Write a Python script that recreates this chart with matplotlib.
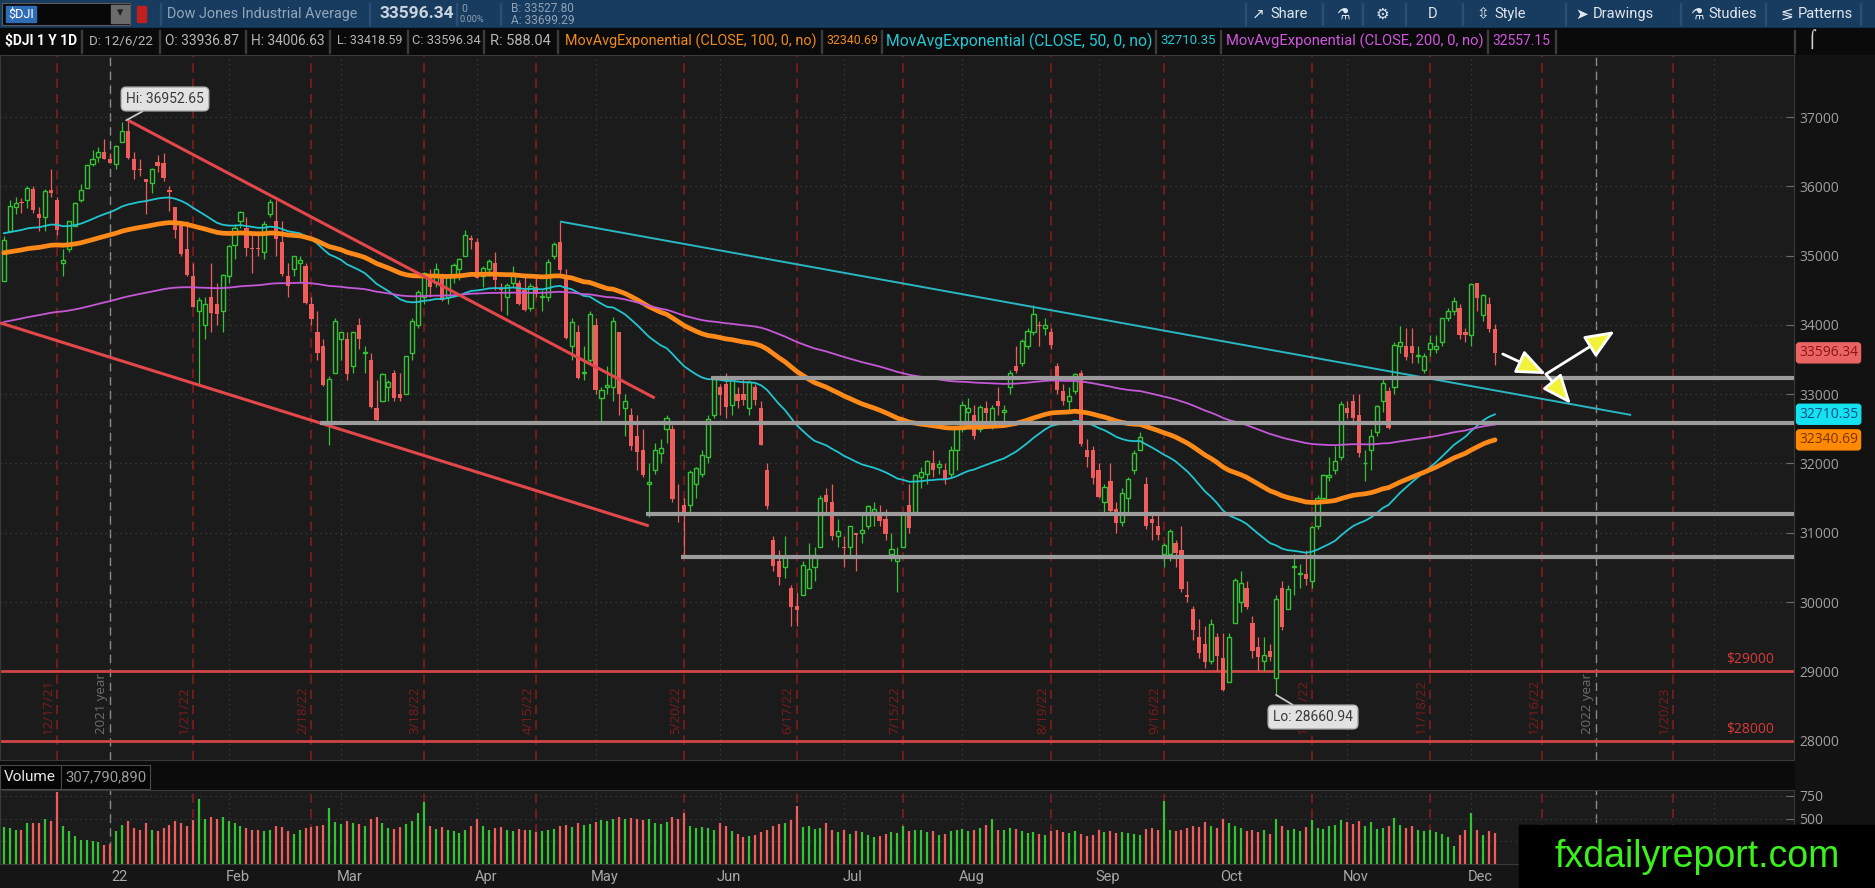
import numpy as np
import pandas as pd
import matplotlib
matplotlib.use('Agg')
import matplotlib.pyplot as plt
import matplotlib.transforms as mtrans
from matplotlib.patches import Rectangle

W, H = 1875, 888

# NYSE holidays inside the visible range (plus a few future ones)
holidays = ['2021-12-24', '2022-01-17', '2022-02-21', '2022-04-15', '2022-05-30',
            '2022-06-20', '2022-07-04', '2022-09-05', '2022-11-24', '2022-12-26',
            '2023-01-02', '2023-01-16', '2023-02-20']

# daily OHLC, 2021-12-06 .. 2022-12-06
opens = [34640, 35350, 35700, 35760, 35800, 35960, 35600, 35550, 35950, 35800, 34900, 35100, 35430, 35800, 35970, 36320, 36420, 36500, 36400,
         36320, 36640, 36800, 36400, 36250, 36100, 36050, 36350, 36330, 35950, 35700, 35450, 35100, 34700, 34200, 34000, 34400, 34300, 34200, 34700,
         35150, 35500, 35400, 35100, 35100, 35050, 35600, 35500, 35200, 34700, 34800, 34900, 34850, 34300, 33900, 33700, 32600, 33300, 33800,
         33800, 33400, 34000, 33600, 33500, 32800, 32900, 33100, 33300, 33000, 33000, 33600, 34000, 34400, 34700, 34600, 34700, 34400, 34700, 34800, 35000, 35250, 35200,
         34700, 34800, 34900, 34500, 34400, 34600, 34600, 34500, 34250, 34550, 34400, 34400, 35000, 35200, 34700, 33700, 33900, 33300, 33500, 34000,
         32950, 33100, 33100, 33900, 32800, 32700, 32400, 32200, 31700, 31900, 32150, 32500, 32500, 31300, 31400, 31400, 31700, 31850, 32100, 32700, 33100,
         33150, 32850, 33000, 33000, 32800, 33100, 32800, 31900, 30900, 30600, 30500, 30200, 29950, 30100, 30200, 30500, 30800, 31550, 31450, 30950, 30800,
         30800, 31000, 31000, 31100, 31300, 31250, 31200, 30700, 30600, 30800, 31400, 31300, 31800, 31850, 32000, 31950, 31900, 31850, 32200, 32500,
         32750, 32700, 32500, 32800, 32600, 32900, 32750, 33100, 33400, 33450, 33700, 33900, 34000, 33950, 33900, 33400, 33050, 32900, 33050, 33300, 32200, 32200, 31900,
         31450, 31750, 31350, 31150, 31500, 31900, 32200, 31700, 31200, 31100, 30700, 30700, 30850, 30750, 30100, 29900, 29500, 29400, 29150, 29500, 29200,
         28850, 29700, 30000, 30200, 29700, 29350, 29150, 29300, 28900, 30200, 29900, 30500, 30400, 30400, 30300, 31100, 31500, 31800, 31900, 32100, 32800,
         32900, 32700, 32000, 32200, 32450, 32900, 33050, 33100, 33700, 33700, 33700, 33550, 33350, 33650, 33650, 33750, 34100, 34200, 34250, 33900, 33850,
         34600, 34150, 34300, 33936.87]
highs = [35290, 35800, 35850, 35830, 36000, 36000, 35700, 35960, 36250, 35850, 35100, 35500, 35770, 36030, 36310, 36530, 36570, 36680, 36480,
         36600, 36935, 36952.65, 36500, 36400, 36110, 36260, 36450, 36480, 36000, 35700, 35500, 35500, 34900, 34400, 34400, 34900, 34600, 34730, 35160,
         35450, 35650, 35550, 35300, 35350, 35500, 35820, 35800, 35500, 34900, 35000, 34990, 34900, 34400, 34200, 33800, 33260, 34100, 33900,
         33900, 33900, 34100, 33700, 33600, 33200, 33300, 33200, 33350, 33300, 33550, 34100, 34500, 34760, 34800, 34900, 34750, 34710, 34900, 34960, 35370, 35300, 35250,
         34850, 34950, 35050, 34600, 34600, 34850, 34650, 34700, 34600, 34700, 34500, 34950, 35200, 35492, 34800, 34100, 34000, 33700, 34200, 34100,
         33100, 33400, 34110, 33900, 33000, 32800, 32700, 32500, 32000, 32300, 32350, 32700, 32550, 31700, 31500, 31900, 31950, 32200, 32700, 33220, 33150,
         33300, 33250, 33100, 33250, 33200, 33150, 32900, 32000, 30950, 30750, 30950, 30250, 30150, 30600, 30850, 30800, 31550, 31650, 31700, 31200, 30950,
         31100, 31000, 31250, 31400, 31450, 31400, 31350, 31000, 30800, 31300, 31700, 31850, 31950, 32050, 32200, 32050, 32000, 32250, 32550, 32900,
         32950, 32850, 32850, 32900, 32850, 33100, 32850, 33350, 33700, 33800, 33950, 34281, 34050, 34100, 33950, 33450, 33150, 33100, 33300, 33350, 32350, 32250, 32000,
         31700, 32000, 31450, 31650, 31800, 32200, 32450, 31800, 31300, 31300, 30850, 31050, 30900, 31100, 30300, 29950, 29750, 29650, 29750, 29550, 29550,
         29550, 30350, 30450, 30300, 29800, 29500, 29500, 29400, 30100, 30300, 30250, 30700, 30550, 30750, 31100, 31550, 31850, 32100, 32250, 32900, 32900,
         33000, 33000, 32200, 32500, 32850, 33250, 33100, 33750, 33990, 33950, 33950, 33700, 33600, 33850, 33850, 34100, 34250, 34400, 34300, 33950, 34600,
         34600, 34450, 34400, 34006.63]
lows = [34640, 35350, 35600, 35620, 35680, 35620, 35350, 35350, 35840, 35300, 34710, 35050, 35430, 35770, 35970, 36300, 36350, 36390, 36330,
        36250, 36640, 36400, 36100, 36150, 35600, 35900, 36200, 36080, 35650, 35250, 35000, 34700, 34260, 33150, 33800, 33900, 34000, 33900, 34600,
        34950, 35400, 35000, 34750, 35000, 34950, 35550, 35000, 34700, 34400, 34700, 34600, 34300, 34000, 33500, 33120, 32272, 33300, 33500,
        33200, 33300, 33650, 33300, 32800, 32600, 32900, 32900, 32900, 32900, 33000, 33500, 33950, 34300, 34400, 34550, 34350, 34300, 34600, 34650, 35000, 35100, 34670,
        34550, 34700, 34500, 34200, 34150, 34550, 34280, 34200, 34200, 34400, 34200, 34350, 34950, 34750, 33800, 33500, 33220, 33200, 33450, 33000,
        32600, 33000, 32900, 32700, 32400, 32200, 31900, 31800, 31230, 31850, 32000, 32300, 31450, 31150, 30640, 31300, 31500, 31800, 32000, 32650, 32700,
        32650, 32700, 32800, 32850, 32700, 32850, 32270, 31350, 30450, 30250, 30350, 29650, 29650, 30100, 30200, 30300, 30800, 31300, 30900, 30800, 30500,
        30650, 30450, 30850, 31050, 31100, 31100, 30900, 30600, 30140, 30800, 31000, 31300, 31650, 31700, 31800, 31850, 31700, 31800, 31900, 32450,
        32600, 32350, 32450, 32600, 32500, 32700, 32600, 33000, 33300, 33400, 33650, 33850, 33700, 33850, 33650, 33000, 32850, 32750, 33000, 32250, 31950, 31700, 31500,
        31250, 31250, 31000, 31100, 31300, 31850, 32200, 31050, 30900, 30900, 30500, 30600, 30500, 30150, 30000, 29450, 29200, 29050, 29100, 29000, 28720,
        28850, 29700, 29850, 29900, 29200, 29000, 29000, 29150, 28660.94, 29600, 29900, 30100, 30200, 30250, 30200, 31050, 31450, 31750, 31850, 32050, 32650,
        32550, 32100, 31750, 31900, 32400, 32750, 32500, 33000, 33600, 33500, 33450, 33450, 33300, 33550, 33600, 33700, 34050, 34150, 33800, 33750, 33700,
        34200, 34050, 33900, 33418.59]
closes = [35227, 35719, 35754, 35755, 35971, 35651, 35545, 35928, 35898, 35365, 34932, 35493, 35754, 35950, 36302, 36398, 36488, 36398, 36338,
          36585, 36800, 36407, 36236, 36231, 36068, 36252, 36290, 36113, 35912, 35368, 35029, 34715, 34265, 34365, 34297, 34168, 34160, 34725, 35132,
          35405, 35629, 35111, 35089, 35091, 35463, 35768, 35241, 34738, 34566, 34989, 34934, 34312, 34079, 33597, 33131, 33224, 34059, 33893,
          33294, 33891, 33795, 33615, 32818, 32633, 33286, 33174, 32944, 32945, 33544, 34063, 34481, 34754, 34553, 34808, 34359, 34708, 34862, 34955, 35294, 35229, 34678,
          34818, 34922, 34641, 34497, 34583, 34721, 34308, 34221, 34565, 34451, 34412, 34911, 35161, 34793, 33811, 34049, 33240, 33302, 34160, 33061,
          33062, 33129, 34061, 32998, 32900, 32246, 32161, 31834, 31730, 32197, 32223, 32655, 31490, 31254, 31262, 31880, 31929, 32120, 32637, 33213, 32990,
          32813, 33248, 32900, 32916, 33180, 32910, 32272, 31393, 30517, 30365, 30668, 29927, 29889, 30530, 30483, 30677, 31500, 31439, 30947, 31029, 30775,
          31097, 30968, 31037, 31385, 31338, 31174, 30981, 30773, 30630, 31288, 31072, 31827, 31874, 32036, 31899, 31990, 31761, 32197, 32530, 32845,
          32798, 32396, 32813, 32727, 32803, 32832, 32774, 33309, 33336, 33761, 33913, 34152, 33980, 33999, 33706, 33063, 32909, 32970, 33291, 32283, 32098, 31790, 31510,
          31656, 31318, 31145, 31581, 31774, 32151, 32381, 31104, 31135, 30961, 30822, 31019, 30706, 30184, 30076, 29590, 29260, 29135, 29684, 29226, 28726,
          29491, 30317, 30274, 29927, 29297, 29203, 29239, 29211, 30039, 29635, 30186, 30524, 30424, 30334, 31083, 31500, 31837, 31839, 32034, 32862, 32733,
          32653, 32148, 32001, 32403, 32827, 33161, 32514, 33716, 33748, 33537, 33593, 33554, 33546, 33746, 33700, 34098, 34195, 34347, 33850, 33853, 34590,
          34395, 34430, 33948, 33596.34]
# volume, millions
volumes = [410, 395, 380, 380, 450, 450, 455, 500, 470, 790, 420, 360, 310, 260, 260, 250, 240, 210, 220,
           360, 430, 470, 400, 380, 450, 380, 360, 400, 430, 470, 450, 420, 490, 720, 500, 520, 500, 520, 470,
           450, 420, 400, 380, 370, 360, 370, 420, 410, 360, 330, 380, 400, 410, 420, 430, 620, 460, 440,
           470, 450, 440, 420, 500, 520, 450, 400, 390, 410, 440, 470, 560, 680, 420, 390, 410, 380, 360, 340, 380, 420, 500,
           420, 380, 400, 410, 380, 360, 390, 370, 380, 350, 360, 380, 390, 420, 430, 410, 450, 430, 440, 460,
           480, 470, 500, 520, 500, 510, 500, 480, 500, 450, 440, 460, 520, 500, 560, 420, 400, 410, 400, 380, 450,
           420, 360, 330, 300, 310, 320, 350, 380, 420, 440, 450, 480, 640, 410, 420, 390, 400, 450, 370, 350, 380,
           330, 360, 350, 320, 300, 310, 330, 350, 340, 420, 360, 380, 370, 350, 360, 320, 330, 360, 380, 390,
           360, 380, 400, 430, 500, 380, 370, 400, 390, 360, 340, 350, 330, 320, 360, 380, 350, 340, 360, 330, 310, 320, 370,
           350, 360, 340, 350, 340, 330, 320, 390, 400, 370, 700, 380, 360, 370, 400, 420, 410, 460, 420, 400, 500,
           450, 420, 400, 360, 380, 350, 370, 330, 500, 420, 380, 390, 360, 410, 480, 400, 390, 420, 430, 490, 460,
           440, 470, 420, 460, 390, 400, 420, 510, 430, 400, 420, 380, 360, 370, 350, 330, 300, 200, 320, 380, 560,
           380, 320, 360, 340]

# EMA starting levels read at the left edge, and the study readouts
ema_seeds = {50: 35326, 100: 35037, 200: 34030}
readout = {'close': 33596.34, 50: 32710.35, 100: 32340.69, 200: 32557.15}

expiries = ['2021-12-17', '2022-01-21', '2022-02-18', '2022-03-18', '2022-04-15', '2022-05-20',
            '2022-06-17', '2022-07-15', '2022-08-19', '2022-09-16', '2022-10-21', '2022-11-18',
            '2022-12-16', '2023-01-20']
month_starts = pd.date_range('2022-01-01', '2023-02-01', freq='MS')
# labels past Dec sit under the watermark, so only gridlines are drawn there
month_names = ['22', 'Feb', 'Mar', 'Apr', 'May', 'Jun', 'Jul', 'Aug', 'Sep', 'Oct', 'Nov', 'Dec']

# drawn studies: (date, price) pairs
red_upper = [('2022-01-05', 36952.65), ('2022-05-13', 32945)]
red_lower = [('2021-12-03', 34030), ('2022-05-12', 31100)]
cyan_trend = [('2022-04-21', 35492), ('2023-01-10', 32700)]
gray_levels = [('2022-05-27', 33240), ('2022-02-23', 32590), ('2022-05-12', 31275), ('2022-05-20', 30655)]
red_levels = [29000, 28000]
# arrows as (bar index, price)
arrows = [((253.3, 33580), (260.6, 33290)),
          ((260.6, 33290), (272.2, 33910)),
          ((260.6, 33290), (264.8, 32860))]

GREEN = '#35c235'
RED = '#f05c5c'
BG = '#1b1b1b'
UI = ['Roboto', 'DejaVu Sans']
plt.rcParams['font.family'] = ['Open Sans', 'DejaVu Sans']

days = pd.bdate_range('2021-12-06', '2023-03-31')
days = days[~days.isin(pd.to_datetime(holidays))]


def day_idx(d):
    return days.searchsorted(pd.Timestamp(d), side='right') - 1


def first_idx(d):
    return days.searchsorted(pd.Timestamp(d), side='left')


def ema(vals, span, seed):
    s = pd.Series([seed] + list(vals), dtype=float)
    return s.ewm(span=span, adjust=False).mean().to_numpy()[1:]


o = np.array(opens, float)
h = np.array(highs, float)
l = np.array(lows, float)
c = np.array(closes, float)
v = np.array(volumes, float)
x = np.arange(len(c))

fig = plt.figure(figsize=(W / 100, H / 100), dpi=100, facecolor='#0e0e0e')
renderer = fig.canvas.get_renderer()


def fx(px):
    return px / W


def fy(py):
    return 1 - py / H


def ftext(px, py, s, x1=None, **kw):
    kw.setdefault('va', 'center')
    t = fig.text(fx(px), fy(py), s, **kw)
    if x1 is not None:
        w = t.get_window_extent(renderer).width
        t.set_fontsize(t.get_fontsize() * (x1 - px) / w)
    return t


def frect(x0, y0, x1, y1, **kw):
    fig.patches.append(Rectangle((fx(x0), fy(y1)), (x1 - x0) / W, (y1 - y0) / H,
                                 transform=fig.transFigure, **kw))


# background bands (behind the axes)
frect(0, 0, W, 28, color='#183c60', zorder=-2)
frect(0, 28, W, 55, color='#0a0a0a', zorder=-2)
frect(1794, 55, W, H, color='#121212', zorder=-2)
frect(0, 760, 1794, 790, color='#0b0b0b', zorder=-2)
frect(0, 864, 1794, H, color='#151515', zorder=-2)

# x mapping: 12/17/21 bar at px 57, 5.918 px per bar
i17 = day_idx('2021-12-17')
PXB = 5.918
xlim = (i17 - 57 / PXB, i17 + (1794 - 57) / PXB)

ax = fig.add_axes([0, fy(760), fx(1794), (760 - 55) / H])
ax.set_facecolor(BG)
ax.set_xlim(*xlim)
ax.set_ylim(27721, 37895)
axv = fig.add_axes([0, fy(864), fx(1794), (864 - 790) / H])
axv.set_facecolor(BG)
axv.set_xlim(*xlim)
axv.set_ylim(0, 816)

for a in (ax, axv):
    for s in a.spines.values():
        s.set_color('#3a3a3a')
    a.set_xticks([])
    a.yaxis.tick_right()
    a.tick_params(axis='y', direction='in', length=6, color='#6a6a6a', pad=4,
                  labelcolor='#a0a0a0', labelsize=10)

ax.set_yticks(range(28000, 38000, 1000))
ax.grid(axis='y', color='#3d3d3d', linestyle=(0, (1, 3)), lw=0.9)
axv.set_yticks([500, 750])
axv.set_yticks([250, 500], minor=True)
axv.tick_params(axis='y', which='minor', length=0)
axv.grid(axis='y', which='both', color='#3d3d3d', linestyle=(0, (1, 3)), lw=0.9)

# month gridlines (last bar of previous month) and labels
lab_tr = mtrans.blended_transform_factory(ax.transData, fig.transFigure)
for j, ms in enumerate(month_starts):
    k = first_idx(ms)
    for a in (ax, axv):
        a.axvline(k - 1, color='#3d3d3d', linestyle=(0, (1, 3)), lw=0.9, zorder=0)
    if j < len(month_names):
        ax.text(k + 0.5, fy(877), month_names[j], transform=lab_tr, ha='center', va='center',
                color='#a8a8a8', fontsize=10.5, family=UI, clip_on=False)

# expiration lines
for d in expiries:
    k = day_idx(d)
    ts = pd.Timestamp(d)
    ax.axvline(k, color='#8c1d1d', lw=1.1, linestyle=(0, (6, 4)), zorder=1)
    axv.axvline(k, color='#8c1d1d', lw=1.1, linestyle=(0, (6, 4)), zorder=0)
    ax.text(k - 0.35, 28090, f'{ts.month}/{ts.day}/{ts:%y}', rotation=90, ha='right', va='bottom',
            color='#7d1c1c', fontsize=9.5, zorder=1)

# year lines
for yr in ['2022-01-01', '2023-01-01']:
    k = first_idx(yr) - 1
    for a in (ax, axv):
        a.axvline(k, color='#8a8a8a', lw=1.0, linestyle=(0, (6, 4)), zorder=1)
    ax.text(k - 0.35, 28090, f'{pd.Timestamp(yr).year - 1} year', rotation=90, ha='right',
            va='bottom', color='#6e6e6e', fontsize=9.5, zorder=1)

# horizontal price alerts
for lvl in red_levels:
    ax.axhline(lvl, color='#d04545', lw=2.0, zorder=2)
    ax.text(1774 / 1794, lvl + 60, f'${lvl}', transform=ax.get_yaxis_transform(), ha='right',
            va='bottom', color='#d83a3a', fontsize=10)

# candles
up = c >= o
col = np.where(up, GREEN, RED)
ax.vlines(x, l, h, colors=col, lw=0.9, zorder=3)
body = np.maximum(np.abs(c - o), 14)
bottom = np.minimum(o, c)
ax.bar(x[up], body[up], bottom=bottom[up], width=0.7, facecolor=BG, edgecolor=GREEN,
       lw=1.0, zorder=4)
ax.bar(x[~up], body[~up], bottom=bottom[~up], width=0.72, color=RED, lw=0, zorder=4)

# moving averages
ema_style = {50: ('#22c4cf', 1.3), 100: ('#ff8a1a', 3.4), 200: ('#c458d6', 1.3)}
for span, (color, lw) in ema_style.items():
    ax.plot(x, ema(c, span, ema_seeds[span]), color=color, lw=lw, zorder=5,
            solid_capstyle='round')

# trendlines
for pts, color, lw in [(red_upper, '#e2474b', 2.2), (red_lower, '#e2474b', 2.2),
                       (cyan_trend, '#2ab6c2', 1.4)]:
    xs = [day_idx(d) for d, _ in pts]
    if pts is red_lower:
        xs[0] = xlim[0]
    ax.plot(xs, [p for _, p in pts], color=color, lw=lw, zorder=6, solid_capstyle='butt')

for d, lvl in gray_levels:
    ax.plot([day_idx(d) - 0.5, xlim[1]], [lvl, lvl], color='#9c9c9c', lw=3.0, zorder=6,
            solid_capstyle='butt')

for (x0, y0), (x1, y1) in arrows:
    ax.annotate('', xy=(x1, y1), xytext=(x0, y0),
                arrowprops=dict(arrowstyle='-|>,head_length=1.2,head_width=0.5', fc='#f2f23a',
                                ec='white', lw=2.0, shrinkA=0, shrinkB=0, mutation_scale=15),
                zorder=7)

# Hi / Lo tags
i_hi, i_lo = int(np.argmax(h)), int(np.argmin(l))
box = dict(boxstyle='round,pad=0.35,rounding_size=0.35', fc='#e2e2e2', ec='#b5b5b5', lw=1)
ax.annotate(f'Hi: {h[i_hi]:.2f}', xy=(i_hi - 0.3, h[i_hi]), xytext=(165, H - 99),
            textcoords='figure pixels', ha='center', va='center', fontsize=10, color='#3a3a3a',
            family=UI, bbox=box,
            arrowprops=dict(arrowstyle='-', color='#c8c8c8', lw=1.3, shrinkA=0, shrinkB=0),
            zorder=8)
ax.annotate(f'Lo: {l[i_lo]:.2f}', xy=(i_lo, l[i_lo]), xytext=(1313, H - 717),
            textcoords='figure pixels', ha='center', va='center', fontsize=10, color='#3a3a3a',
            family=UI, bbox=box,
            arrowprops=dict(arrowstyle='-', color='#c8c8c8', lw=1.3, shrinkA=0, shrinkB=0),
            zorder=8)

# price bubbles on the axis
bub_tr = mtrans.blended_transform_factory(fig.transFigure, ax.transData)
for key, fc, tc in [('close', '#ea6464', '#8e1515'), (50, '#14e2f0', '#0d4f86'),
                    (100, '#ff8a00', '#7a3300')]:
    fig.text(fx(1799), readout[key], f'{readout[key]:.2f}', transform=bub_tr, ha='left',
             va='center', fontsize=10, color=tc,
             bbox=dict(boxstyle='round,pad=0.18,rounding_size=0.2', fc=fc, ec=fc))

# volume
axv.vlines(x, 0, v, colors=col, lw=1.6)

# volume header
frect(0, 765, 61, 789, facecolor='#050505', edgecolor='#4a4a4a', lw=0.8, zorder=1)
frect(61, 765, 150, 789, facecolor='#050505', edgecolor='#4a4a4a', lw=0.8, zorder=1)
ftext(4, 777, 'Volume', 56, color='#e6e6e6', fontsize=10, family=UI)
ftext(65, 777, '307,790,890', 146, color='#9a9a9a', fontsize=10, family=UI)

# toolbar
frect(2, 3, 130, 25, facecolor='#080808', edgecolor='#5a5a5a', lw=0.8, zorder=1)
frect(6, 6, 36, 22, color='#2e6cb6', zorder=1)
frect(111, 5, 129, 23, color='#6b6b6b', zorder=1)
ftext(120, 13, '▾', color='#1e1e1e', fontsize=9, ha='center', family='DejaVu Sans')
ftext(8, 14, '$DJI', 34, color='white', fontsize=10, family=UI)
frect(137, 6, 146, 22, color='#c21f1f', zorder=1)
ftext(167, 14, 'Dow Jones Industrial Average', 356, color='#90a6bc', fontsize=11, family=UI)
ftext(379, 14, f"{readout['close']:.2f}", 453, color='#cad4de', fontsize=13, weight='bold', family=UI)
ftext(461, 9, '0', color='#8ea2b6', fontsize=7.5, family=UI)
ftext(459, 20, '0.00%', 484, color='#8ea2b6', fontsize=7.5, family=UI)
ftext(511, 9, 'B: 33527.80', 574, color='#8ea2b6', fontsize=7.5, family=UI)
ftext(511, 20, 'A: 33699.29', 574, color='#8ea2b6', fontsize=7.5, family=UI)
for sx in [160, 369, 456, 500, 1245, 1322, 1362, 1405, 1462, 1565, 1680, 1765, 1860]:
    frect(sx, 3, sx + 1, 25, color='#2b4f74', zorder=1)
tools = [(1252, '↗', 'Share'), (1336, '⚗', ''), (1376, '⚙', ''), (1428, '', 'D'),
         (1476, '⇳', 'Style'), (1575, '➤', 'Drawings'), (1690, '⚗', 'Studies'),
         (1780, '≶', 'Patterns')]
for tx, icon, label in tools:
    if icon:
        ftext(tx, 14, icon, color='#dfe6ee', fontsize=11, family='DejaVu Sans')
    if label:
        ftext(tx + (18 if icon else 0), 14, label, color='#dfe6ee', fontsize=10.5, family=UI)

# info row
info = [(5, 77, '$DJI 1 Y 1D', '#ffffff', 'bold'), (89, 153, 'D: 12/6/22', '#b5b5b5', 'normal'),
        (165, 239, 'O: 33936.87', '#b5b5b5', 'normal'), (251, 325, 'H: 34006.63', '#b5b5b5', 'normal'),
        (337, 402, 'L: 33418.59', '#b5b5b5', 'normal'), (412, 480, 'C: 33596.34', '#b5b5b5', 'normal'),
        (490, 551, 'R: 588.04', '#b5b5b5', 'normal'),
        (565, 817, 'MovAvgExponential (CLOSE, 100, 0, no)', '#f08a1c', 'normal'),
        (826, 878, f'{readout[100]:.2f}', '#f08a1c', 'normal'),
        (886, 1152, 'MovAvgExponential (CLOSE, 50, 0, no)', '#22c8d4', 'normal'),
        (1160, 1215, f'{readout[50]:.2f}', '#22c8d4', 'normal'),
        (1226, 1484, 'MovAvgExponential (CLOSE, 200, 0, no)', '#d056e0', 'normal'),
        (1492, 1550, f'{readout[200]:.2f}', '#d056e0', 'normal')]
for tx0, tx1, s, color, wt in info:
    ftext(tx0, 41, s, tx1, color=color, fontsize=10, weight=wt, family=UI)
for sx in [81, 159, 245, 329, 407, 483, 557, 821, 881, 1155, 1220, 1487, 1555, 1794]:
    frect(sx, 30, sx + 1, 53, color='#3c3c3c', zorder=1)
ftext(1812, 40, '⌠', color='#cfcfcf', fontsize=12, family='DejaVu Sans', ha='center')

# watermark
frect(1519, 825, W, H, color='black', zorder=10)
fig.text(fx(1697), fy(857), 'fxdailyreport.com', color='#3cf01e', fontsize=27,
         family=['Liberation Sans', 'DejaVu Sans'], ha='center', va='center', zorder=11)

fig.savefig('out.png', dpi=100, facecolor=fig.get_facecolor())
